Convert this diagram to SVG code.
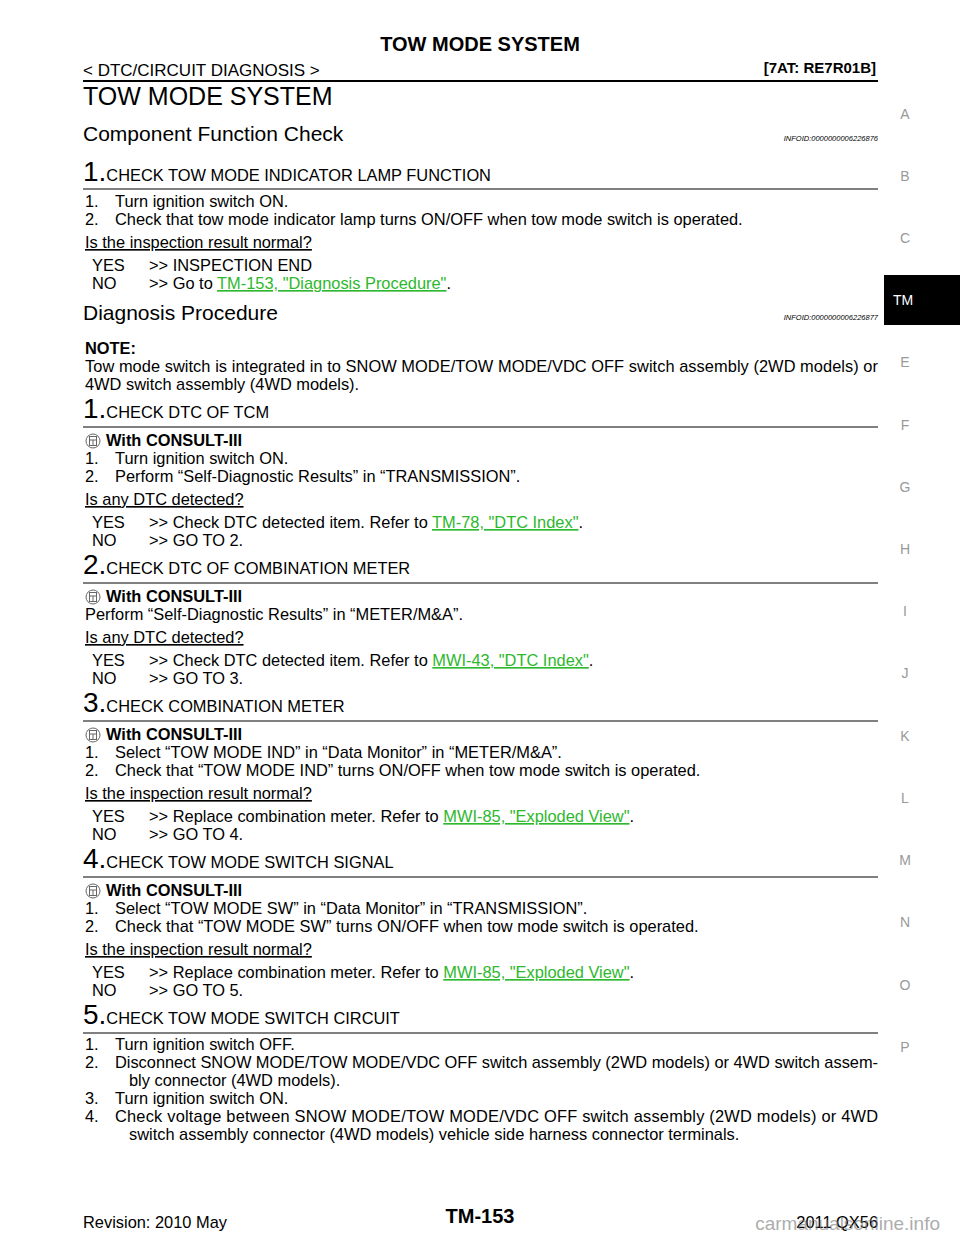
<svg xmlns="http://www.w3.org/2000/svg" width="960" height="1242" viewBox="0 0 960 1242">
<style>
text{font-family:"Liberation Sans",Arial,sans-serif;fill:#000}
.b{font-size:16.4px}
.big{font-size:25px}
.sec{font-size:21px}
.info{font-size:7.5px;font-style:italic}
.side{font-size:14px;fill:#999}
.lnk{fill:#2db82d;text-decoration:underline}
.rule{stroke:#000;stroke-width:1}
.bold{font-weight:bold}
.u{text-decoration:underline}
</style>
<defs>
<g id="ic"><circle cx="8" cy="0" r="7" fill="none" stroke="#666" stroke-width="1"/><rect x="4.5" y="-4.5" width="7" height="9" fill="none" stroke="#666" stroke-width="1"/><line x1="4.5" y1="-1" x2="11.5" y2="-1" stroke="#666"/><line x1="8" y1="-1" x2="8" y2="4.5" stroke="#666"/></g>
</defs>
<rect width="960" height="1242" fill="#fff"/>
<text x="480" y="51" text-anchor="middle" font-size="20" class="bold">TOW MODE SYSTEM</text>
<text x="83" y="76" font-size="17">&lt; DTC/CIRCUIT DIAGNOSIS &gt;</text>
<text x="876" y="73" text-anchor="end" font-size="15" class="bold">[7AT: RE7R01B]</text>
<line x1="83" y1="81" x2="878" y2="81" stroke="#000" stroke-width="2"/>
<text x="83" y="105" class="big">TOW MODE SYSTEM</text>
<text x="83" y="141" class="sec">Component Function Check</text>
<text x="878" y="141" text-anchor="end" class="info">INFOID:0000000006226876</text>
<text x="83" y="181"><tspan font-size="28">1.</tspan><tspan class="b">CHECK TOW MODE INDICATOR LAMP FUNCTION</tspan></text>
<line x1="83" y1="189" x2="878" y2="189" class="rule"/>
<text x="85" y="207" class="b">1.</text><text x="115" y="207" class="b">Turn ignition switch ON.</text>
<text x="85" y="225" class="b">2.</text><text x="115" y="225" class="b">Check that tow mode indicator lamp turns ON/OFF when tow mode switch is operated.</text>
<text x="85" y="248" class="b u">Is the inspection result normal?</text>
<text x="92" y="271" class="b">YES</text><text x="149" y="271" class="b">&gt;&gt; INSPECTION END</text>
<text x="92" y="289" class="b">NO</text><text x="149" y="289" class="b">&gt;&gt; Go to <tspan class="lnk">TM-153, "Diagnosis Procedure"</tspan>.</text>
<text x="83" y="320" class="sec">Diagnosis Procedure</text>
<text x="878" y="320" text-anchor="end" class="info">INFOID:0000000006226877</text>
<text x="85" y="354" class="b bold">NOTE:</text>
<text x="85" y="372" class="b" textLength="793" lengthAdjust="spacing">Tow mode switch is integrated in to SNOW MODE/TOW MODE/VDC OFF switch assembly (2WD models) or</text>
<text x="85" y="390" class="b">4WD switch assembly (4WD models).</text>
<text x="83" y="418"><tspan font-size="28">1.</tspan><tspan class="b">CHECK DTC OF TCM</tspan></text>
<line x1="83" y1="427" x2="878" y2="427" class="rule"/>
<use href="#ic" x="85" y="441"/><text x="106" y="446" class="b bold">With CONSULT-III</text>
<text x="85" y="464" class="b">1.</text><text x="115" y="464" class="b">Turn ignition switch ON.</text>
<text x="85" y="482" class="b">2.</text><text x="115" y="482" class="b">Perform “Self-Diagnostic Results” in “TRANSMISSION”.</text>
<text x="85" y="505" class="b u">Is any DTC detected?</text>
<text x="92" y="528" class="b">YES</text><text x="149" y="528" class="b">&gt;&gt; Check DTC detected item. Refer to <tspan class="lnk">TM-78, "DTC Index"</tspan>.</text>
<text x="92" y="546" class="b">NO</text><text x="149" y="546" class="b">&gt;&gt; GO TO 2.</text>
<text x="83" y="574"><tspan font-size="28">2.</tspan><tspan class="b">CHECK DTC OF COMBINATION METER</tspan></text>
<line x1="83" y1="583" x2="878" y2="583" class="rule"/>
<use href="#ic" x="85" y="597"/><text x="106" y="602" class="b bold">With CONSULT-III</text>
<text x="85" y="620" class="b">Perform “Self-Diagnostic Results” in “METER/M&amp;A”.</text>
<text x="85" y="643" class="b u">Is any DTC detected?</text>
<text x="92" y="666" class="b">YES</text><text x="149" y="666" class="b">&gt;&gt; Check DTC detected item. Refer to <tspan class="lnk">MWI-43, "DTC Index"</tspan>.</text>
<text x="92" y="684" class="b">NO</text><text x="149" y="684" class="b">&gt;&gt; GO TO 3.</text>
<text x="83" y="712"><tspan font-size="28">3.</tspan><tspan class="b">CHECK COMBINATION METER</tspan></text>
<line x1="83" y1="721" x2="878" y2="721" class="rule"/>
<use href="#ic" x="85" y="735"/><text x="106" y="740" class="b bold">With CONSULT-III</text>
<text x="85" y="758" class="b">1.</text><text x="115" y="758" class="b">Select “TOW MODE IND” in “Data Monitor” in “METER/M&amp;A”.</text>
<text x="85" y="776" class="b">2.</text><text x="115" y="776" class="b">Check that “TOW MODE IND” turns ON/OFF when tow mode switch is operated.</text>
<text x="85" y="799" class="b u">Is the inspection result normal?</text>
<text x="92" y="822" class="b">YES</text><text x="149" y="822" class="b">&gt;&gt; Replace combination meter. Refer to <tspan class="lnk">MWI-85, "Exploded View"</tspan>.</text>
<text x="92" y="840" class="b">NO</text><text x="149" y="840" class="b">&gt;&gt; GO TO 4.</text>
<text x="83" y="868"><tspan font-size="28">4.</tspan><tspan class="b">CHECK TOW MODE SWITCH SIGNAL</tspan></text>
<line x1="83" y1="877" x2="878" y2="877" class="rule"/>
<use href="#ic" x="85" y="891"/><text x="106" y="896" class="b bold">With CONSULT-III</text>
<text x="85" y="914" class="b">1.</text><text x="115" y="914" class="b">Select “TOW MODE SW” in “Data Monitor” in “TRANSMISSION”.</text>
<text x="85" y="932" class="b">2.</text><text x="115" y="932" class="b">Check that “TOW MODE SW” turns ON/OFF when tow mode switch is operated.</text>
<text x="85" y="955" class="b u">Is the inspection result normal?</text>
<text x="92" y="978" class="b">YES</text><text x="149" y="978" class="b">&gt;&gt; Replace combination meter. Refer to <tspan class="lnk">MWI-85, "Exploded View"</tspan>.</text>
<text x="92" y="996" class="b">NO</text><text x="149" y="996" class="b">&gt;&gt; GO TO 5.</text>
<text x="83" y="1024"><tspan font-size="28">5.</tspan><tspan class="b">CHECK TOW MODE SWITCH CIRCUIT</tspan></text>
<line x1="83" y1="1033" x2="878" y2="1033" class="rule"/>
<text x="85" y="1050" class="b">1.</text><text x="115" y="1050" class="b">Turn ignition switch OFF.</text>
<text x="85" y="1068" class="b">2.</text><text x="115" y="1068" class="b" textLength="763" lengthAdjust="spacing">Disconnect SNOW MODE/TOW MODE/VDC OFF switch assembly (2WD models) or 4WD switch assem-</text>
<text x="129" y="1086" class="b">bly connector (4WD models).</text>
<text x="85" y="1104" class="b">3.</text><text x="115" y="1104" class="b">Turn ignition switch ON.</text>
<text x="85" y="1122" class="b">4.</text><text x="115" y="1122" class="b" textLength="763" lengthAdjust="spacing">Check voltage between SNOW MODE/TOW MODE/VDC OFF switch assembly (2WD models) or 4WD</text>
<text x="129" y="1140" class="b">switch assembly connector (4WD models) vehicle side harness connector terminals.</text>
<g class="sidebar">
<text x="905" y="119" class="side" text-anchor="middle">A</text>
<text x="905" y="181" class="side" text-anchor="middle">B</text>
<text x="905" y="243" class="side" text-anchor="middle">C</text>
<rect x="884" y="275" width="76" height="50" fill="#000"/>
<text x="903" y="305" font-size="14" style="fill:#fff" text-anchor="middle">TM</text>
<text x="905" y="367" class="side" text-anchor="middle">E</text>
<text x="905" y="430" class="side" text-anchor="middle">F</text>
<text x="905" y="492" class="side" text-anchor="middle">G</text>
<text x="905" y="554" class="side" text-anchor="middle">H</text>
<text x="905" y="616" class="side" text-anchor="middle">I</text>
<text x="905" y="678" class="side" text-anchor="middle">J</text>
<text x="905" y="741" class="side" text-anchor="middle">K</text>
<text x="905" y="803" class="side" text-anchor="middle">L</text>
<text x="905" y="865" class="side" text-anchor="middle">M</text>
<text x="905" y="927" class="side" text-anchor="middle">N</text>
<text x="905" y="990" class="side" text-anchor="middle">O</text>
<text x="905" y="1052" class="side" text-anchor="middle">P</text>
</g>
<text x="83" y="1228" class="b">Revision: 2010 May</text>
<text x="480" y="1223" text-anchor="middle" font-size="20" class="bold">TM-153</text>
<text x="878" y="1228" text-anchor="end" class="b">2011 QX56</text>
<text x="940" y="1230" text-anchor="end" font-size="19" style="fill:#777;opacity:0.6">carmanualsonline.info</text>
</svg>
